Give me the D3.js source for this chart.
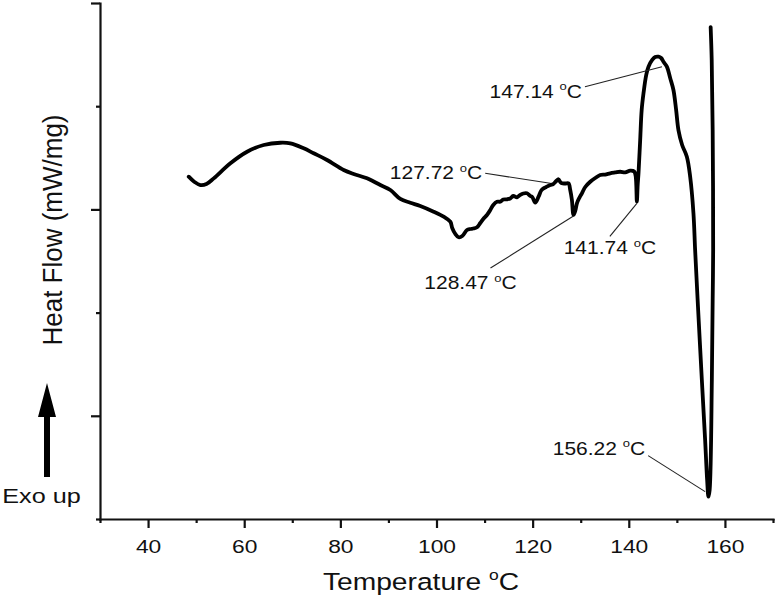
<!DOCTYPE html>
<html>
<head>
<meta charset="utf-8">
<script src="https://cdn.jsdelivr.net/npm/d3@7"></script>
<style>
  html, body { margin: 0; padding: 0; background: #fff; }
  svg { display: block; }
  text { font-family: "Liberation Sans", Arial, Helvetica, sans-serif; fill: #111; }
</style>
</head>
<body>
<svg id="chart" width="776" height="605"></svg>
<script>
// ---------------- data ----------------
const temperature = [
  48.46, 49.65, 50.89, 52.14, 53.66, 57.13, 60.60, 64.05, 67.53, 69.60,
  72.37, 74.45, 77.23, 80.69, 82.76, 85.55, 88.32, 90.40, 92.48, 94.55,
  96.63, 99.40, 101.48, 102.87, 103.29, 103.91, 104.60, 105.36, 106.34, 107.03,
  107.65, 108.42, 109.11, 109.73, 110.50, 111.19, 111.81, 112.58, 113.26, 113.89,
  114.66, 115.34, 115.97, 116.74, 117.42, 118.05, 118.81, 119.50, 119.92, 120.54,
  121.23, 121.79, 122.27, 122.83, 123.66, 124.28, 124.91, 125.38, 125.74, 126.09,
  126.78, 127.46, 127.82, 128.17, 128.50, 128.86, 129.21, 129.69, 130.25, 130.94,
  131.98, 133.02, 134.05, 135.09, 136.13, 137.17, 138.21, 139.25, 140.29, 141.12,
  141.43, 141.68, 141.85, 142.02, 142.37, 142.68, 143.06, 143.62, 144.10, 144.87,
  145.49, 146.18, 146.73, 147.25, 147.92, 148.61, 149.29, 149.85, 150.33, 151.10,
  152.08, 152.77, 153.45, 153.80, 154.43, 155.20, 155.88, 156.30, 156.57, 156.82,
  157.28, 157.45, 157.55, 157.45, 157.25, 157.03
];
const heatFlow = [
  3.317, 3.266, 3.236, 3.246, 3.301, 3.447, 3.559, 3.624, 3.646, 3.640,
  3.592, 3.544, 3.479, 3.382, 3.343, 3.301, 3.236, 3.188, 3.101, 3.065,
  3.033, 2.978, 2.930, 2.881, 2.817, 2.762, 2.730, 2.742, 2.800, 2.810,
  2.815, 2.827, 2.868, 2.907, 2.946, 2.994, 3.043, 3.075, 3.075, 3.096,
  3.098, 3.106, 3.130, 3.117, 3.140, 3.154, 3.156, 3.130, 3.120, 3.065,
  3.123, 3.183, 3.204, 3.217, 3.236, 3.246, 3.275, 3.292, 3.266, 3.253,
  3.251, 3.253, 3.188, 3.091, 2.946, 2.985, 3.059, 3.110, 3.156, 3.217,
  3.268, 3.304, 3.333, 3.338, 3.350, 3.358, 3.365, 3.358, 3.375, 3.367,
  3.324, 3.075, 3.236, 3.350, 3.672, 3.963, 4.125, 4.302, 4.383, 4.448,
  4.477, 4.480, 4.467, 4.428, 4.383, 4.273, 4.157, 3.963, 3.769, 3.624,
  3.511, 3.317, 2.965, 2.607, 2.025, 1.347, 0.766, 0.378, 0.216, 0.281,
  1.347, 2.122, 2.607, 3.769, 4.448, 4.767
];

const xMajorTicks = [40, 60, 80, 100, 120, 140, 160];
const xMinorTicks = [30, 50, 70, 90, 110, 130, 150, 170];
const yMajorTicks = [1, 3, 5];
const yMinorTicks = [0, 2, 4];

const annoLabels = ["147.14", "127.72", "128.47", "141.74", "156.22"];
const annoTemps  = [146.90, 123.66, 128.50, 141.68, 155.88];
const annoValues = [4.383, 3.253, 2.936, 3.059, 0.265];

const xTitle = "Temperature ";
const yTitle = "Heat Flow (mW/mg)";
const exoLabel = "Exo up";

// ---------------- layout ----------------
const STRETCH = 1.2;
// offsets relative to the annotated point: [lineStartDx, lineStartDy, textDx, textDy, anchor]
const annoLayout = [
  [-77, 20, -80, 31, "end"],
  [-65, -10, -68, -4, "end"],
  [-83, 52, -103, 73, "middle"],
  [-27, 33, -27, 51, "middle"],
  [-57, -36, -60, -37, "end"]
];

const svg = d3.select("#chart");
const x = d3.scaleLinear().domain([30, 170]).range([100, 773]);
const y = d3.scaleLinear().domain([0, 5]).range([519, 3]);

// ---------------- axes ----------------
const axisStroke = 2.2;
const gxMinor = svg.append("g").attr("transform", "translate(0,519)")
  .call(d3.axisBottom(x).tickValues(xMinorTicks).tickSize(4).tickSizeOuter(0).tickFormat(""));
const gx = svg.append("g").attr("transform", "translate(0,519)")
  .call(d3.axisBottom(x).tickValues(xMajorTicks).tickSize(9).tickSizeOuter(0).tickFormat(d3.format("d")));
const gyMinor = svg.append("g").attr("transform", "translate(100,0)")
  .call(d3.axisLeft(y).tickValues(yMinorTicks).tickSize(4).tickSizeOuter(0).tickFormat(""));
const gy = svg.append("g").attr("transform", "translate(100,0)")
  .call(d3.axisLeft(y).tickValues(yMajorTicks).tickSize(9).tickSizeOuter(0).tickFormat(""));

[gxMinor, gx, gyMinor, gy].forEach(g => {
  g.selectAll("path.domain").attr("stroke", "#111").attr("stroke-width", axisStroke).attr("stroke-linecap", "square");
  g.selectAll(".tick line").attr("stroke", "#111").attr("stroke-width", axisStroke);
});
gxMinor.select("path.domain").remove();
gyMinor.select("path.domain").remove();

gx.selectAll(".tick text")
  .attr("y", null).attr("dy", null)
  .attr("transform", `translate(0,34) scale(${STRETCH},1)`)
  .attr("font-size", 19)
  .attr("font-family", '"Liberation Sans", Arial, sans-serif')
  .attr("fill", "#111");

// ---------------- curve ----------------
const pts = temperature.map((t, i) => [t, heatFlow[i]]);
const line = d3.line()
  .x(d => x(d[0]))
  .y(d => y(d[1]))
  .curve(d3.curveCatmullRom.alpha(0.5));

svg.append("path")
  .datum(pts)
  .attr("d", line)
  .attr("fill", "none")
  .attr("stroke", "#000")
  .attr("stroke-width", 3.8)
  .attr("stroke-linejoin", "round")
  .attr("stroke-linecap", "round");

// ---------------- helpers ----------------
function degText(sel, prefix, size) {
  sel.append("tspan").text(prefix);
  sel.append("tspan").text("o").attr("font-size", size * 0.62).attr("dy", -size * 0.42);
  sel.append("tspan").text("C").attr("dy", size * 0.42);
}

// ---------------- annotations ----------------
annoLabels.forEach((lab, i) => {
  const px = x(annoTemps[i]), py = y(annoValues[i]);
  const L = annoLayout[i];
  svg.append("line")
    .attr("x1", px + L[0]).attr("y1", py + L[1])
    .attr("x2", px).attr("y2", py)
    .attr("stroke", "#222").attr("stroke-width", 1.1);
  const t = svg.append("text")
    .attr("transform", `translate(${px + L[2]},${py + L[3]}) scale(${STRETCH},1)`)
    .attr("text-anchor", L[4])
    .attr("font-size", 17.5);
  degText(t, lab + " ", 17.5);
});

// ---------------- titles ----------------
const xt = svg.append("text")
  .attr("transform", `translate(421,590) scale(${STRETCH},1)`)
  .attr("text-anchor", "middle")
  .attr("font-size", 23.5);
degText(xt, xTitle, 23.5);

svg.append("text")
  .attr("transform", `translate(62,230) scale(1.08,1) rotate(-90)`)
  .attr("text-anchor", "middle")
  .attr("font-size", 26)
  .text(yTitle);

svg.append("text")
  .attr("transform", `translate(41.5,503) scale(${STRETCH},1)`)
  .attr("text-anchor", "middle")
  .attr("font-size", 21)
  .text(exoLabel);

// exo arrow
svg.append("path")
  .attr("d", "M44,477 L50,477 L50,417 L56,417 L47,383 L38,417 L44,417 Z")
  .attr("fill", "#000");
</script>
</body>
</html>
